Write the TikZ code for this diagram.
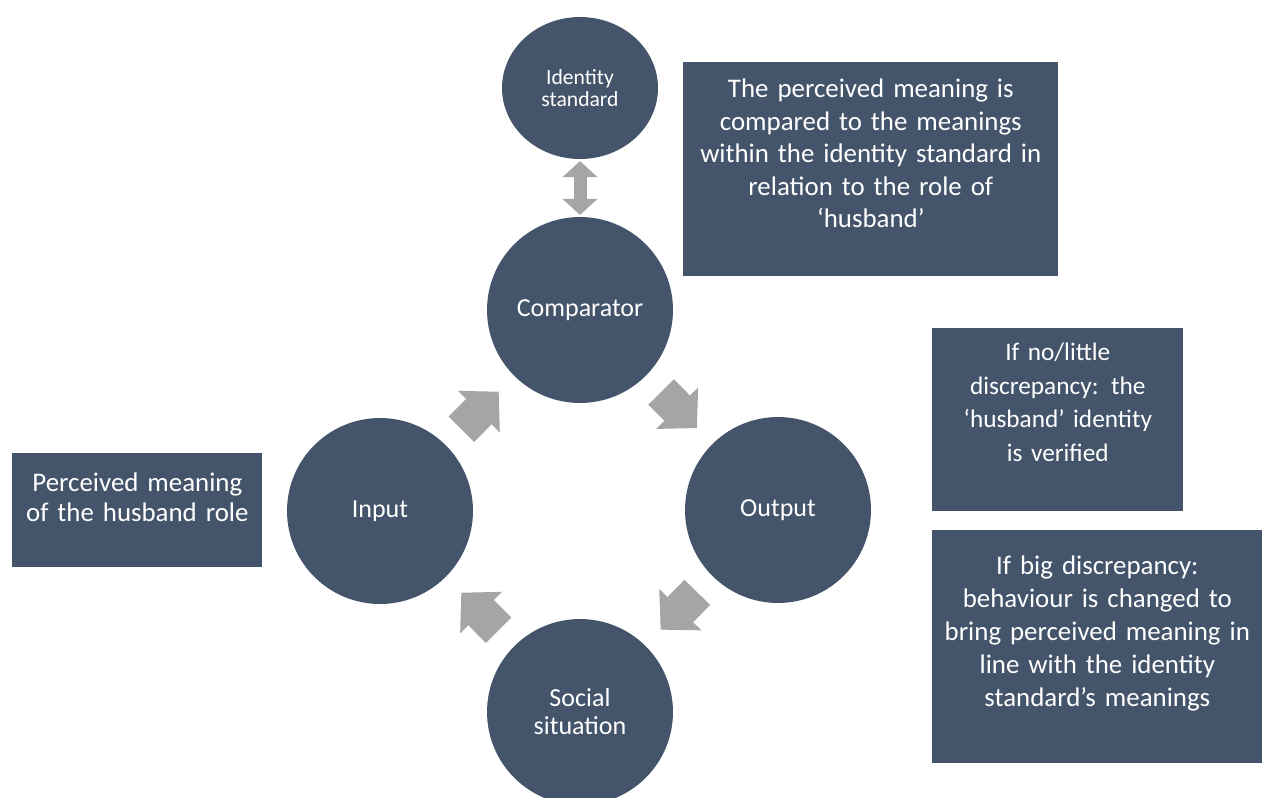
\documentclass[tikz,border=0pt]{standalone}
\usepackage{fontspec}
\setmainfont{Carlito}
\usetikzlibrary{arrows.meta,shapes.geometric}
\definecolor{slate}{HTML}{44546A}
\definecolor{arrowgrey}{HTML}{A5A5A5}

\begin{document}
\begin{tikzpicture}
  [%%%%%%%%%%%%%%%%%%%%%%%%%%%%%%
  x=0.02cm, y=-0.02cm,
  stagecircle/.style={circle,fill=slate,text=white,minimum size=3.72cm,align=center,
    font=\fontsize{14.8}{16}\selectfont},
  notebox/.style={rectangle,fill=slate,text=white,anchor=north west,align=center,
    inner xsep=0.1cm,inner ysep=0.26cm},
  cyclearrow/.style={arrowgrey,line width=0.72cm,shorten <=0.44cm,shorten >=0.44cm,
    -{Triangle[length=0.56cm,width=1.18cm,line width=0pt]}},
  linkarrow/.style={arrowgrey,line width=0.26cm,shorten <=1pt,shorten >=1pt,
    {Triangle[length=0.32cm,width=0.7cm,line width=0pt]}-{Triangle[length=0.32cm,width=0.7cm,line width=0pt]}},
  ]%%%%%%%%%%%%%%%%%%%%%%%%%%%%%%

  \useasboundingbox (0,0) rectangle (1262,798);

  % the loop
  \node[ellipse,fill=slate,text=white,minimum width=3.12cm,minimum height=2.84cm,align=center,
    font=\fontsize{12.3}{13}\selectfont] (idstd) at (580,88) {Identity\\standard};
  \node[stagecircle] (comp) at (580,310) {Comparator};
  \node[stagecircle] (inp) at (380,511) {Input};
  \node[stagecircle] (outp) at (778,510) {Output};
  \node[stagecircle] (social) at (580,712) {Social\\situation};

  \draw[linkarrow] (idstd) -- (comp);
  \draw[cyclearrow] (inp) -- (comp);
  \draw[cyclearrow] (comp) -- (outp);
  \draw[cyclearrow] (outp) -- (social);
  \draw[cyclearrow] (social) -- (inp);

  % the notes
  \node[notebox,inner ysep=0.32cm,text width=7.3cm,minimum height=4.28cm,text depth=3.24cm,
    font=\fontsize{15.3}{18.5}\selectfont] (compnote) at (683,62)
    {The perceived meaning is\\compared to the meanings\\within the identity standard in\\relation to the role of\\`husband'};
  \node[notebox,inner ysep=0.38cm,text width=4.8cm,minimum height=2.28cm,text depth=1.12cm,
    font=\fontsize{15.3}{17}\selectfont] (inpnote) at (12,453)
    {Perceived meaning\\of the husband role};
  \node[notebox,text width=4.82cm,minimum height=3.66cm,text depth=2.74cm,
    font=\fontsize{14.4}{19.3}\selectfont] (smallnote) at (932,328)
    {If no/little\\discrepancy: the\\`husband' identity\\is verified};
  \node[notebox,inner ysep=0.5cm,text width=6.4cm,minimum height=4.66cm,text depth=3.26cm,
    font=\fontsize{15.3}{18.8}\selectfont] (bignote) at (932,530)
    {If big discrepancy:\\behaviour is changed to\\bring perceived meaning in\\line with the identity\\standard's meanings};
\end{tikzpicture}
\end{document}
